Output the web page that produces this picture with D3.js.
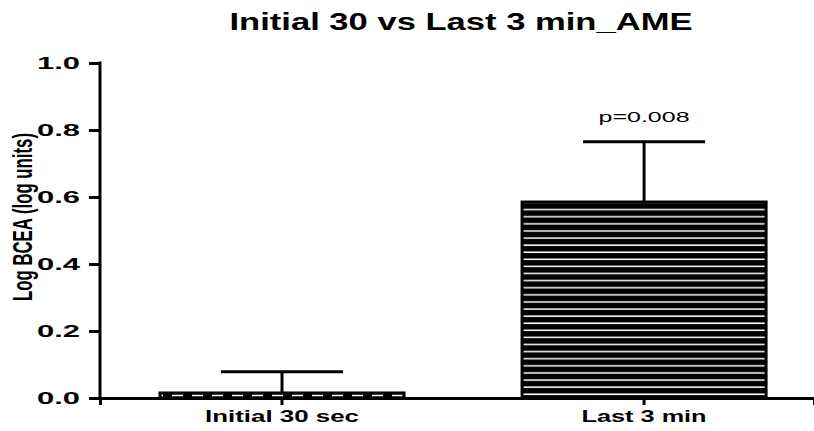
<!DOCTYPE html>
<html>
<head>
<meta charset="utf-8">
<script src="https://cdn.jsdelivr.net/npm/d3@7"></script>
<style>
  body { margin: 0; background: #fff; }
  text { font-family: Arial, "Liberation Sans", sans-serif; }
</style>
</head>
<body>
<div id="chart"></div>
<script>
// data
var categories = ["Initial 30 sec", "Last 3 min"];
var means = [0.015, 0.585];
var errors = [0.063, 0.180];
var yTicks = [0.0, 0.2, 0.4, 0.6, 0.8, 1.0];
var annotations = ["", "p=0.008"];

var svg_width = 814, svg_height = 431;
var margin = {top: 63, right: 0, bottom: 33, left: 100};

var svg = d3.select("#chart")
  .append("svg")
  .attr("width", svg_width)
  .attr("height", svg_height);

var defs = svg.append("defs");

// horizontal stripes for the second bar
var stripes = defs.append("pattern")
  .attr("id", "stripes")
  .attr("patternUnits", "userSpaceOnUse")
  .attr("width", 10).attr("height", 7.1);
stripes.append("rect").attr("width", 10).attr("height", 7.1).attr("fill", "#000");
stripes.append("rect").attr("y", 3).attr("width", 10).attr("height", 1.5).attr("fill", "#fff");

// dashed line for the first bar
var dashes = defs.append("pattern")
  .attr("id", "dashes")
  .attr("patternUnits", "userSpaceOnUse")
  .attr("x", 172)
  .attr("width", 20).attr("height", svg_height);
dashes.append("rect").attr("width", 20).attr("height", svg_height).attr("fill", "#000");
dashes.append("rect").attr("x", 0).attr("y", 394.5).attr("width", 11).attr("height", 2).attr("fill", "#fff");

var x = d3.scaleBand()
  .domain(categories)
  .range([margin.left, svg_width - margin.right])
  .paddingInner(0.326)
  .paddingOuter(0.149)
  .align(0.556);

var y = d3.scaleLinear()
  .domain([0, 1])
  .range([svg_height - margin.bottom, margin.top]);

// title (the picture is stretched sideways, so widths are forced)
svg.append("text")
  .attr("x", 461).attr("y", 29.5)
  .attr("text-anchor", "middle")
  .attr("textLength", 463).attr("lengthAdjust", "spacingAndGlyphs")
  .style("font-size", "24.5px").style("font-weight", "bold")
  .text("Initial 30 vs Last 3 min_AME");

// y axis label
svg.append("text")
  .attr("transform", "translate(32,217) scale(1.65,1) rotate(-90)")
  .attr("text-anchor", "middle")
  .attr("textLength", 168).attr("lengthAdjust", "spacingAndGlyphs")
  .style("font-size", "16.5px").style("font-weight", "bold")
  .text("Log BCEA (log units)");

// bars
var bars = svg.selectAll(".bar")
  .data(categories)
  .enter()
  .append("rect")
  .attr("class", "bar")
  .attr("x", function(d) { return x(d); })
  .attr("width", x.bandwidth())
  .attr("y", function(d, i) { return y(means[i]); })
  .attr("height", function(d, i) { return y(0) - y(means[i]); })
  .attr("fill", function(d, i) { return i == 0 ? "url(#dashes)" : "url(#stripes)"; })
  .attr("stroke", "#000")
  .attr("stroke-width", 3);

// error bars
var err = svg.selectAll(".err")
  .data(categories)
  .enter()
  .append("g")
  .attr("class", "err");

err.append("line")
  .attr("x1", function(d) { return x(d) + x.bandwidth() / 2; })
  .attr("x2", function(d) { return x(d) + x.bandwidth() / 2; })
  .attr("y1", function(d, i) { return y(means[i]); })
  .attr("y2", function(d, i) { return y(means[i] + errors[i]); })
  .attr("stroke", "#000").attr("stroke-width", 3);

err.append("line")
  .attr("x1", function(d) { return x(d) + x.bandwidth() / 4; })
  .attr("x2", function(d) { return x(d) + x.bandwidth() * 3 / 4; })
  .attr("y1", function(d, i) { return y(means[i] + errors[i]); })
  .attr("y2", function(d, i) { return y(means[i] + errors[i]); })
  .attr("stroke", "#000").attr("stroke-width", 3);

// p value text
err.filter(function(d, i) { return annotations[i] != ""; })
  .append("text")
  .attr("x", function(d) { return x(d) + x.bandwidth() / 2; })
  .attr("y", function(d) { var i = categories.indexOf(d); return y(means[i] + errors[i]) - 20; })
  .attr("text-anchor", "middle")
  .attr("textLength", 91).attr("lengthAdjust", "spacingAndGlyphs")
  .style("font-size", "15px")
  .text(function(d) { return annotations[categories.indexOf(d)]; });

// axes
var yAxis = svg.append("g")
  .attr("transform", "translate(" + margin.left + ",0)")
  .call(d3.axisLeft(y).tickValues(yTicks).tickFormat(d3.format(".1f")).tickSizeOuter(0).tickSize(11).tickPadding(9));

var xAxis = svg.append("g")
  .attr("transform", "translate(0," + y(0) + ")")
  .call(d3.axisBottom(x).tickSizeOuter(0).tickSize(7).tickPadding(5));

[yAxis, xAxis].forEach(function(a) {
  a.select(".domain").attr("stroke", "#000").attr("stroke-width", 3);
  a.selectAll(".tick line").attr("stroke", "#000").attr("stroke-width", 3);
  a.selectAll(".tick text")
    .attr("fill", "#000")
    .attr("lengthAdjust", "spacingAndGlyphs")
    .style("font-family", "Arial, 'Liberation Sans', sans-serif")
    .style("font-weight", "bold");
});
yAxis.selectAll(".tick text")
  .attr("textLength", 43)
  .style("font-size", "16.5px");
xAxis.selectAll(".tick text")
  .attr("textLength", function(d) { return d == categories[0] ? 154 : 125; })
  .style("font-size", "17px");
yAxis.select(".domain").attr("d", "M0," + (y(1) - 1.5) + "V" + (y(0) + 1.5));
</script>
</body>
</html>
